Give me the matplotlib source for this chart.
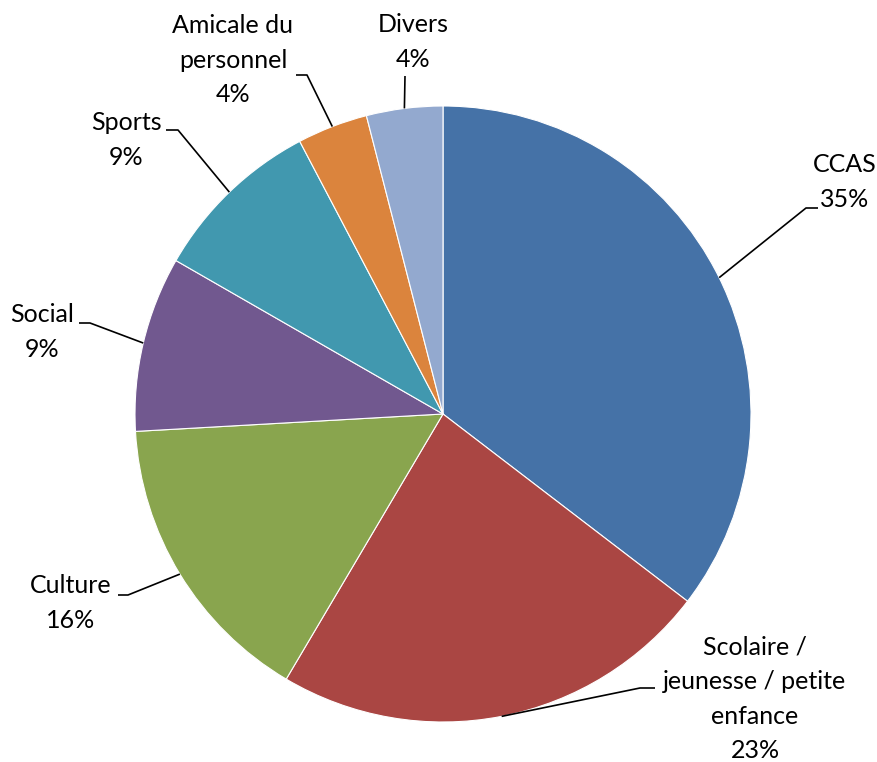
import matplotlib.pyplot as plt
import numpy as np

plt.rcParams["font.family"] = ["Lato", "DejaVu Sans"]

W, H = 877, 762

# data
labels = ["CCAS", "Scolaire /\njeunesse / petite\nenfance", "Culture", "Social",
          "Sports", "Amicale du\npersonnel", "Divers"]
values = [35.4, 23.1, 15.6, 9.2, 9.0, 3.7, 4.0]
colors = ["#4572A7", "#AA4643", "#89A54E", "#71588F", "#4198AF", "#DB843D", "#93A9CF"]

# label layout in pixels (x, y from top): text centre, elbow, end of leader
text_pos = [(845, 182), (755, 699), (71, 603), (42, 332), (126, 140), (233, 60), (413, 42)]
elbows = [(806, 208), (640, 688), (128, 595), (90, 323), (178, 130), (307, 75), (405, 76)]
ends = [(818, 208), (655, 688), (118, 595), (79, 323), (166, 130), (296, 75), None]

CX, CY, R = 443, 414, 308


def px(x, y):
    return x, H - y


fig = plt.figure(figsize=(W / 100, H / 100), dpi=100)
ax = fig.add_axes([0, 0, 1, 1])

wedges, _ = ax.pie(values, colors=colors, startangle=90, counterclock=False,
                   center=px(CX, CY), radius=R,
                   wedgeprops=dict(edgecolor="white", linewidth=0.8))

total = sum(values)
for w, lab, v, tp, el, en in zip(wedges, labels, values, text_pos, elbows, ends):
    mid = np.deg2rad((w.theta1 + w.theta2) / 2)
    sx = CX + R * np.cos(mid)
    sy = CY - R * np.sin(mid)
    xs = [sx, el[0]]
    ys = [sy, el[1]]
    if en is not None:
        xs.append(en[0])
        ys.append(en[1])
    ax.plot(xs, [H - y for y in ys], color="black", linewidth=1.2, solid_capstyle="butt")
    txt = f"{lab}\n{round(v / total * 100):.0f}%"
    ax.text(*px(*tp), txt, ha="center", va="center", fontsize=18,
            linespacing=1.6, color="black")

ax.set_xlim(0, W)
ax.set_ylim(0, H)
ax.set_aspect("equal")
ax.axis("off")

fig.savefig("out.png", dpi=100, facecolor="white")
